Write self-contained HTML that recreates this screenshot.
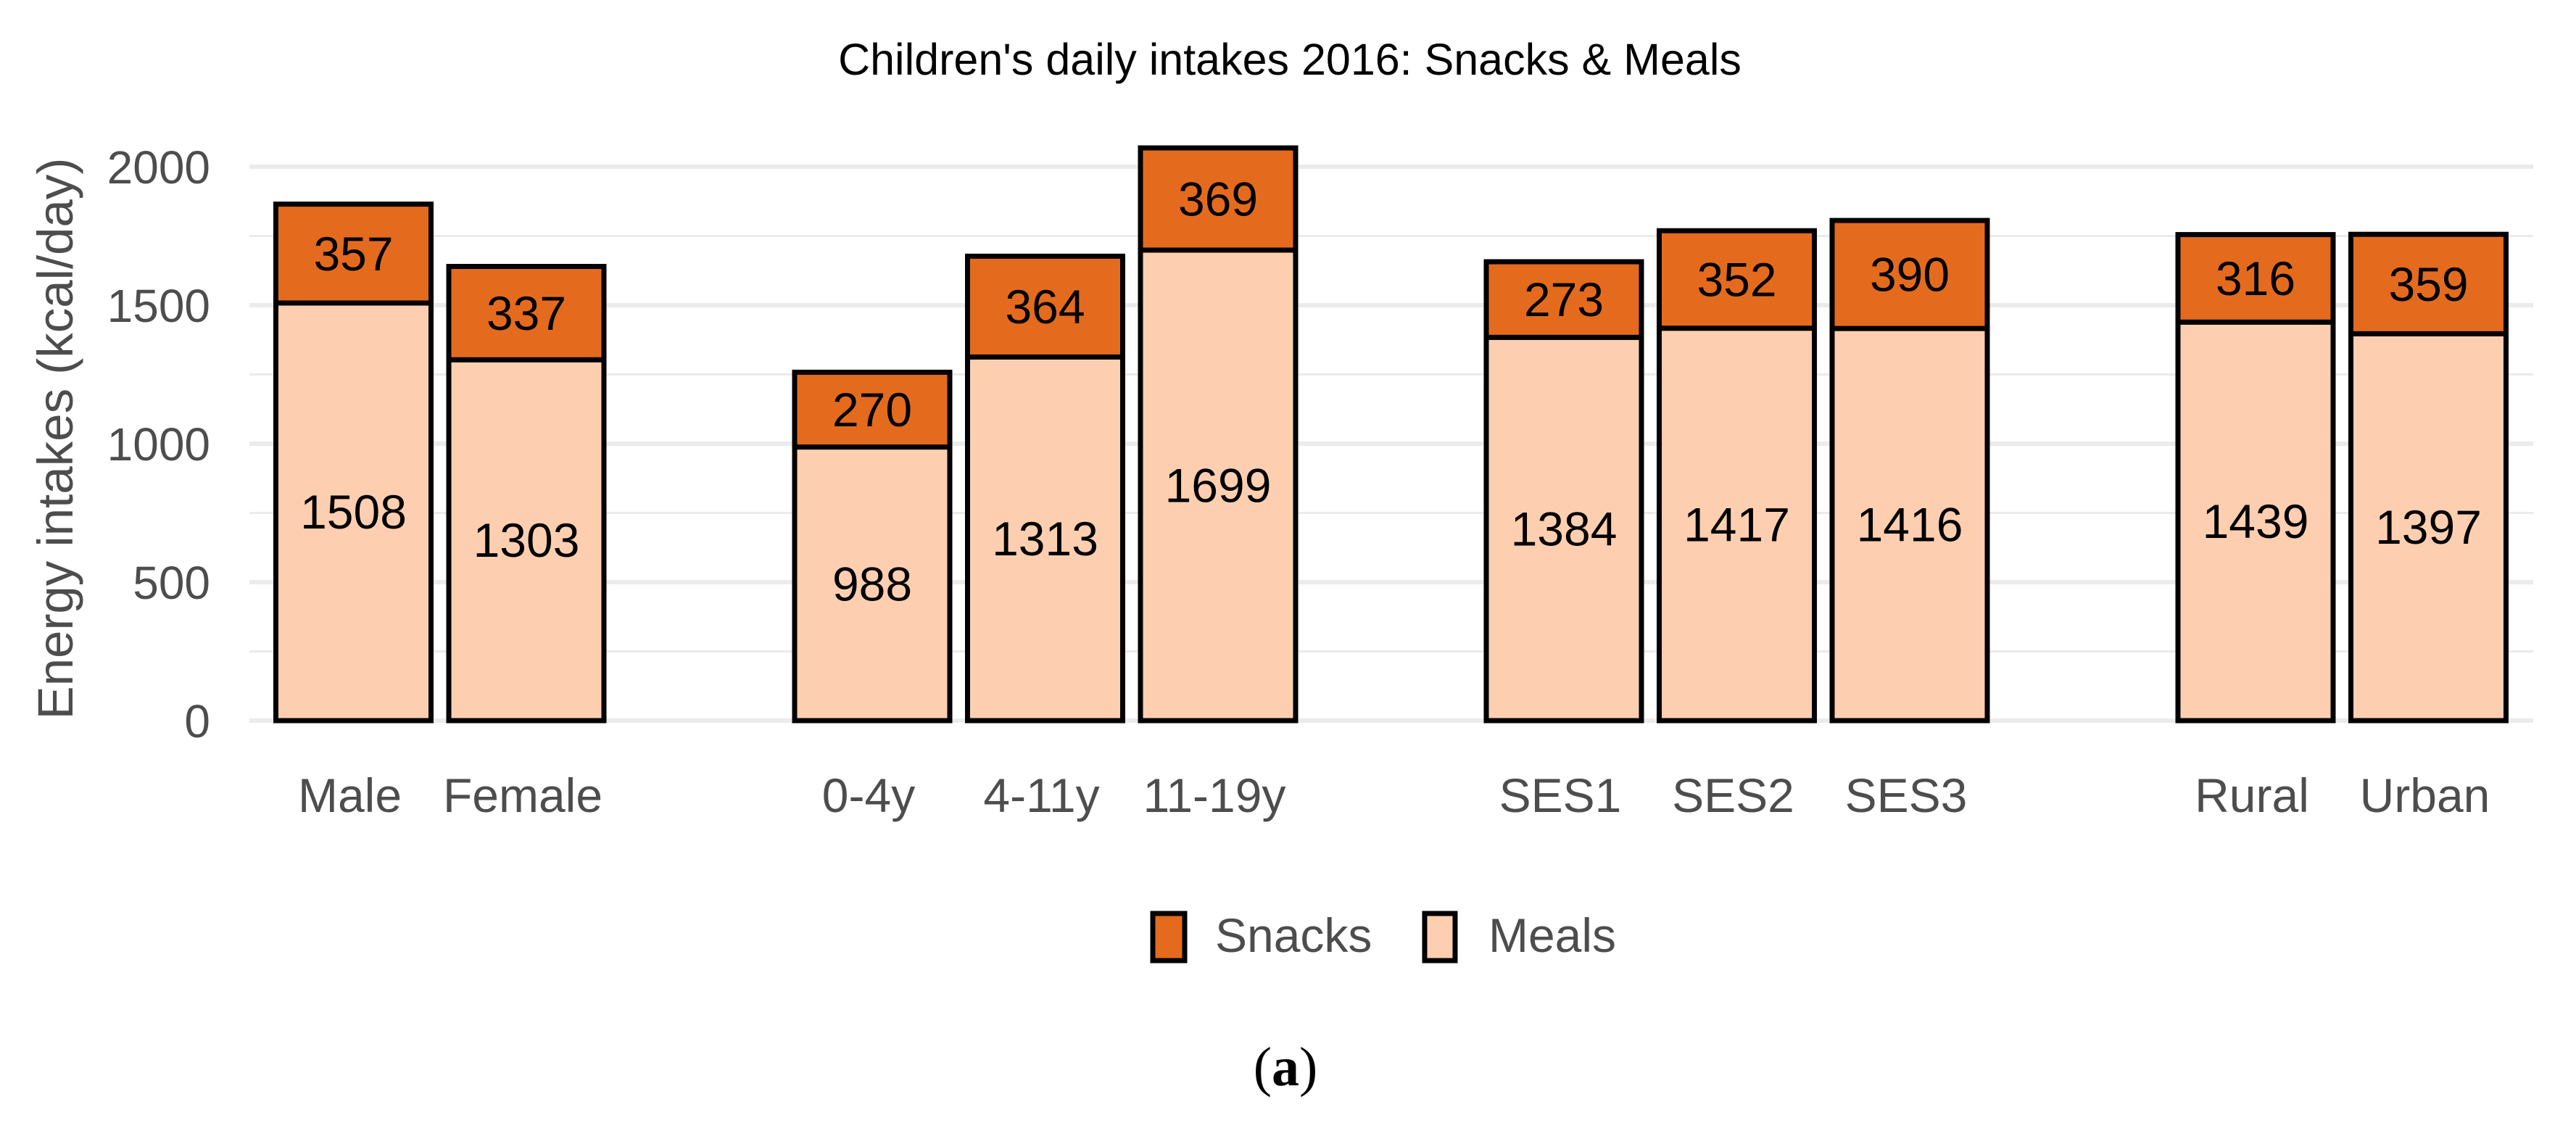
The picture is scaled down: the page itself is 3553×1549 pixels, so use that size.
<!DOCTYPE html>
<html><head><meta charset="utf-8">
<style>
html,body{margin:0;padding:0;background:#fff;}
svg{display:block;}
text{font-family:"Liberation Sans",Arial,sans-serif;}
</style></head>
<body>
<svg id="chart" width="3553" height="1549" viewBox="0 0 3553 1549" xmlns="http://www.w3.org/2000/svg">
<rect width="3553" height="1549" fill="#fff"/>
<text x="1779" y="103" font-size="61" text-anchor="middle" fill="#000">Children's daily intakes 2016: Snacks &amp; Meals</text>
<g id="grid"></g>
<g id="yticks"></g>
<text transform="translate(100,605) rotate(-90)" font-size="69" text-anchor="middle" fill="#4d4d4d">Energy intakes (kcal/day)</text>
<g id="bars"></g>
<g id="xlabels"></g>
<g>
  <g>
    <rect x="1590" y="1260" width="44" height="65" fill="#E46B1E" stroke="#000" stroke-width="7"/>
    <text x="1676" y="1313" font-size="66" fill="#4d4d4d">Snacks</text>
  </g>
  <g>
    <rect x="1965" y="1260" width="42" height="65" fill="#FDCFB0" stroke="#000" stroke-width="7"/>
    <text x="2053" y="1313" font-size="66" fill="#4d4d4d">Meals</text>
  </g>
</g>
<text x="1773" y="1497" font-size="76" text-anchor="middle" fill="#000" style="font-family:'Liberation Serif',serif;">(<tspan font-weight="bold">a</tspan>)</text>
</svg>
<script>
const categories = ["Male","Female","0-4y","4-11y","11-19y","SES1","SES2","SES3","Rural","Urban"];
const slots = [0,1,3,4,5,7,8,9,11,12];
const meals = [1508,1303,988,1313,1699,1384,1417,1416,1439,1397];
const snacks = [357,337,270,364,369,273,352,390,316,359];
const yTicks = [0,500,1000,1500,2000];
const yMinor = [250,750,1250,1750];

const NS = "http://www.w3.org/2000/svg";
const plotL = 344, plotR = 3494;
const y0 = 994, pxPerUnit = 0.382;
function yScale(v){ return y0 - v*pxPerUnit; }
function xScale(slot){ return 487.5 + 238.5*slot; }
const barW = 214;

function mk(tag, attrs){ const e=document.createElementNS(NS,tag); for(const k in attrs) e.setAttribute(k,attrs[k]); return e; }

const grid = document.getElementById('grid');
yMinor.forEach(v=>{
  const l = mk('line',{x1:plotL,x2:plotR,y1:yScale(v),y2:yScale(v),stroke:'#ebebeb','stroke-width':3});
  
  
  grid.appendChild(l);
});
yTicks.forEach(v=>{
  const l = mk('line',{x1:plotL,x2:plotR,y1:yScale(v),y2:yScale(v),stroke:'#ebebeb','stroke-width':6});
  
  
  grid.appendChild(l);
});
const yt = document.getElementById('yticks');
yTicks.forEach(v=>{
  const t = mk('text',{x:290,y:yScale(v)+23,'font-size':64,'text-anchor':'end',fill:'#4d4d4d'});
  t.textContent = String(v);
  
  
  yt.appendChild(t);
});

const bars = document.getElementById('bars');
const xl = document.getElementById('xlabels');
categories.forEach((c,i)=>{
  const cx = xScale(slots[i]);
  const m = meals[i], s = snacks[i];
  const rm = mk('rect',{x:cx-barW/2,y:yScale(m),width:barW,height:yScale(0)-yScale(m),fill:'#FDCFB0',stroke:'#000','stroke-width':7});
  
  
  bars.appendChild(rm);
  const rs = mk('rect',{x:cx-barW/2,y:yScale(m+s),width:barW,height:yScale(m)-yScale(m+s),fill:'#E46B1E',stroke:'#000','stroke-width':7});
  
  
  bars.appendChild(rs);
  const tm = mk('text',{x:cx,y:yScale(m/2)+23,'font-size':66,'text-anchor':'middle',fill:'#000'});
  tm.textContent = String(m);
  
  
  bars.appendChild(tm);
  const ts = mk('text',{x:cx,y:yScale(m+s/2)+23,'font-size':66,'text-anchor':'middle',fill:'#000'});
  ts.textContent = String(s);
  
  
  bars.appendChild(ts);
  const t = mk('text',{x:cx-5,y:1120,'font-size':66,'text-anchor':'middle',fill:'#4d4d4d'});
  t.textContent = c;
  
  
  xl.appendChild(t);
});
</script>
</body></html>
